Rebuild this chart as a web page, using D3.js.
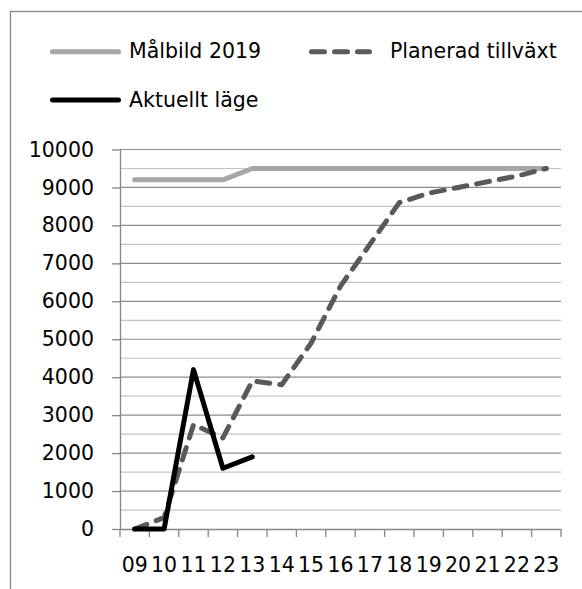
<!DOCTYPE html>
<html>
<head>
<meta charset="utf-8">
<script src="https://cdn.jsdelivr.net/npm/d3@7"></script>
<style>
  body { margin: 0; background: #fff; }
  svg { display: block; font-family: "DejaVu Sans", sans-serif; }
</style>
</head>
<body>
<svg width="582" height="589"></svg>
<script>
// Data for the chart
const years = ["09", "10", "11", "12", "13", "14", "15", "16", "17", "18", "19", "20", "21", "22", "23"];
const malbild = [9200, 9200, 9200, 9200, 9500, 9500, 9500, 9500, 9500, 9500, 9500, 9500, 9500, 9500, 9500];
const planerad = [0, 300, 2750, 2400, 3900, 3800, 4900, 6400, 7500, 8600, 8850, 9000, 9150, 9300, 9500];
const aktuellt = [0, 0, 4200, 1600, 1900];
const yTicks = [0, 1000, 2000, 3000, 4000, 5000, 6000, 7000, 8000, 9000, 10000];
const yMinor = [500, 1500, 2500, 3500, 4500, 5500, 6500, 7500, 8500, 9500];
const seriesNames = ["Målbild 2019", "Planerad tillväxt", "Aktuellt läge"];

const svg = d3.select("svg");
const plot = {left: 120, right: 561, top: 149.5, bottom: 529};

// outer frame (runs off the page on the right and bottom)
svg.append("rect")
    .attr("x", 10.5).attr("y", 11.5)
    .attr("width", 620).attr("height", 620)
    .attr("fill", "none")
    .attr("stroke", "#868686")
    .attr("stroke-width", 1.3);

const x = d3.scaleBand()
    .domain(years)
    .range([plot.left, plot.right])
    .padding(0);

const y = d3.scaleLinear()
    .domain([0, 10000])
    .range([plot.bottom, plot.top]);

// minor gridlines
svg.append("g")
  .selectAll("line")
  .data(yMinor)
  .join("line")
    .attr("x1", plot.left).attr("x2", plot.right)
    .attr("y1", d => y(d)).attr("y2", d => y(d))
    .attr("stroke", "#c4c4c4")
    .attr("stroke-width", 1.2);

// major gridlines
svg.append("g")
  .selectAll("line")
  .data(yTicks.filter(d => d > 0))
  .join("line")
    .attr("x1", plot.left).attr("x2", plot.right)
    .attr("y1", d => y(d)).attr("y2", d => y(d))
    .attr("stroke", "#8c8c8c")
    .attr("stroke-width", 1.2);

// Y axis
const yAxis = svg.append("g")
    .attr("transform", `translate(${plot.left},0)`)
    .call(d3.axisLeft(y).tickValues(yTicks).tickSize(8).tickSizeOuter(0).tickPadding(18).tickFormat(d3.format("d")));
yAxis.selectAll("line, path").attr("stroke", "#868686").attr("stroke-width", 1.3);
yAxis.selectAll("text")
    .attr("fill", "#000")
    .style("font-size", "20.5px")
    .style("font-family", "DejaVu Sans, sans-serif");

// X axis: labels from the band scale, ticks on the category edges
const xAxis = svg.append("g")
    .attr("transform", `translate(0,${plot.bottom})`)
    .call(d3.axisBottom(x).tickSize(0).tickSizeOuter(0).tickPadding(28));
xAxis.select("path").attr("stroke", "#868686").attr("stroke-width", 1.3);
xAxis.selectAll("text")
    .attr("fill", "#000")
    .style("font-size", "20.5px")
    .style("font-family", "DejaVu Sans, sans-serif");

const edges = years.map(d => x(d)).concat([x(years[years.length - 1]) + x.bandwidth()]);
svg.append("g")
  .selectAll("line")
  .data(edges)
  .join("line")
    .attr("x1", d => d).attr("x2", d => d)
    .attr("y1", plot.bottom).attr("y2", plot.bottom + 8)
    .attr("stroke", "#868686")
    .attr("stroke-width", 1.3);

// lines
const line = d3.line()
    .defined(d => d != null)
    .x((d, i) => x(years[i]) + x.bandwidth() / 2)
    .y(d => y(d));

svg.append("path")
    .datum(malbild)
    .attr("fill", "none")
    .attr("stroke", "#a6a6a6")
    .attr("stroke-width", 5)
    .attr("stroke-linecap", "round")
    .attr("stroke-linejoin", "round")
    .attr("d", line);

svg.append("path")
    .datum(planerad)
    .attr("fill", "none")
    .attr("stroke", "#595959")
    .attr("stroke-width", 5)
    .attr("stroke-dasharray", "13,10")
    .attr("stroke-linecap", "round")
    .attr("stroke-linejoin", "round")
    .attr("d", line);

svg.append("path")
    .datum(aktuellt)
    .attr("fill", "none")
    .attr("stroke", "#000")
    .attr("stroke-width", 5)
    .attr("stroke-linecap", "round")
    .attr("stroke-linejoin", "round")
    .attr("d", line);

// legend
const legendItems = [
    {name: seriesNames[0], color: "#a6a6a6", dash: null, x: 52.5, y: 51.7},
    {name: seriesNames[1], color: "#595959", dash: "13,10", x: 311.5, y: 51.7},
    {name: seriesNames[2], color: "#000", dash: null, x: 52.5, y: 100}
];

legendItems.forEach(d => {
    const len = d.dash ? 58 : 66;
    svg.append("line")
        .attr("x1", d.x).attr("x2", d.x + len)
        .attr("y1", d.y).attr("y2", d.y)
        .attr("stroke", d.color)
        .attr("stroke-width", 5)
        .attr("stroke-linecap", "round")
        .attr("stroke-dasharray", d.dash);

    svg.append("text")
        .attr("x", d.x + (d.dash ? 78.5 : 76.5))
        .attr("y", d.y + 6.7)
        .text(d.name)
        .style("font-size", "20.5px")
        .style("fill", "#000");
});
</script>
</body>
</html>
